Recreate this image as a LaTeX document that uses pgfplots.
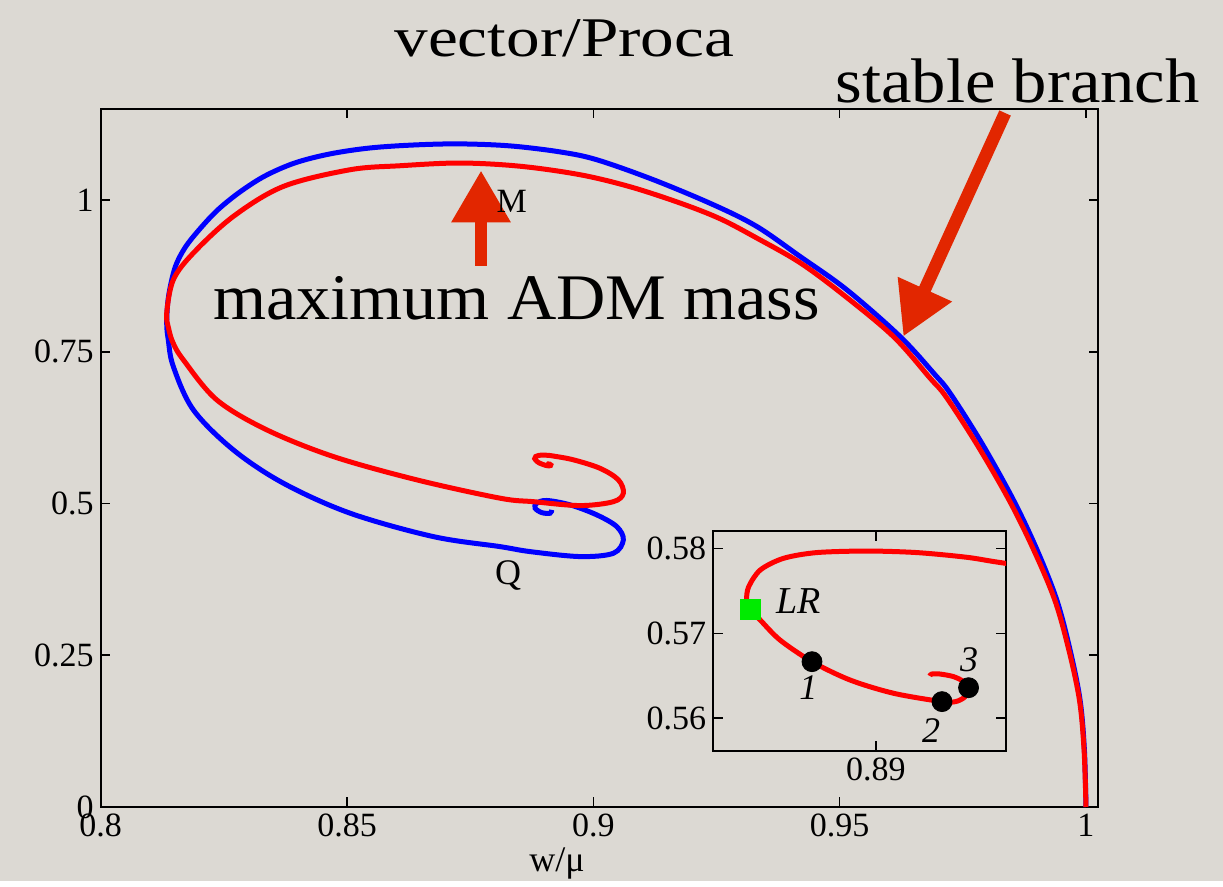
\documentclass[border=0pt]{standalone}
\usepackage{fontspec}
\setmainfont{Liberation Serif}
\usepackage{pgfplots}
\pgfplotsset{compat=1.18}
\usetikzlibrary{arrows.meta}
\definecolor{bg}{RGB}{220,217,211}
\definecolor{arrowred}{RGB}{226,38,0}
\definecolor{lrgreen}{RGB}{0,235,0}
\begin{document}
\begin{tikzpicture}
\fill[bg] (-50.35pt,-37pt) rectangle (561.15pt,403.5pt);
\begin{axis}[
  at={(0pt,0pt)}, anchor=south west,
  scale only axis, width=498.8pt, height=349pt,
  xmin=0.8, xmax=1.0025, ymin=0, ymax=1.15,
  clip=false,
  xtick={0.8,0.85,0.9,0.95,1}, xticklabels={0.8,0.85,0.9,0.95,1},
  ytick={0,0.25,0.5,0.75,1}, yticklabels={0,0.25,0.5,0.75,1},
  tick align=inside, major tick length=4.75pt,
  tick style={line width=0.8pt, black},
  axis line style={line width=1pt},
  ticklabel style={font=\fontsize{17}{19}\selectfont},
]
\addplot[blue, line width=2.5pt, smooth, tension=0.55] coordinates {
(1.0000,0.000) (0.99968,0.09395) (0.99880,0.17636) (0.99677,0.25878) (0.99407,0.34119)
(0.99007,0.42360) (0.98526,0.50602) (0.97885,0.59947) (0.97241,0.68188) (0.96937,0.71205)
(0.96226,0.77518) (0.95144,0.85215) (0.94196,0.90704) (0.93317,0.95649) (0.92436,0.99225)
(0.91218,1.0335) (0.90069,1.0664) (0.89324,1.0793) (0.88309,1.0892) (0.87294,1.0925)
(0.86381,1.0908) (0.85467,1.0858) (0.84655,1.0760) (0.83944,1.0612) (0.83335,1.0397)
(0.82828,1.0134) (0.82381,0.9841) (0.82016,0.9527) (0.81711,0.9214) (0.81508,0.8884)
(0.81376,0.8406) (0.8134,0.7978) (0.81372,0.7697) (0.81474,0.7257) (0.8188,0.6544)
(0.82692,0.5884) (0.83707,0.5335) (0.85061,0.4841) (0.86752,0.4455) (0.88106,0.4290)
(0.88715,0.4208) (0.8973,0.4126) (0.90406,0.418) (0.90609,0.440) (0.90475,0.462)
(0.90069,0.4813) (0.89527,0.4978) (0.89054,0.505) (0.88851,0.5006) (0.88817,0.4923)
(0.88953,0.485) (0.89121,0.484) (0.89156,0.4895)
};
\addplot[red, line width=2.5pt, smooth, tension=0.55] coordinates {
(1.0000,0.000) (0.99962,0.0923) (0.9987,0.1747) (0.99657,0.2571) (0.99373,0.3395)
(0.98957,0.4203) (0.98459,0.5027) (0.97804,0.5950) (0.9716,0.6758) (0.96835,0.7066)
(0.9609,0.77518) (0.95075,0.8439) (0.94196,0.8967) (0.93317,0.9374) (0.92572,0.9692)
(0.9176,0.9951) (0.90745,1.0219) (0.8973,1.0417) (0.88512,1.0557) (0.87294,1.0610)
(0.86076,1.0565) (0.85061,1.0499) (0.83707,1.0224) (0.82692,0.9730) (0.8188,0.9126)
(0.81474,0.8686) (0.8134,0.8137) (0.81376,0.7895) (0.81468,0.7648) (0.81677,0.7368)
(0.82355,0.6708) (0.8337,0.6214) (0.84722,0.5774) (0.86415,0.5390) (0.88106,0.5088)
(0.88789,0.503) (0.8973,0.4966) (0.90406,0.503) (0.90609,0.517) (0.90508,0.539)
(0.90136,0.558) (0.89595,0.572) (0.8919,0.5782) (0.8906,0.5795) (0.88987,0.5797)
(0.88913,0.5795) (0.8883,0.57745) (0.8881,0.57392) (0.88859,0.56921) (0.88906,0.56666)
(0.89026,0.56294) (0.89097,0.56196) (0.89131,0.56255) (0.89136,0.5636) (0.89114,0.5649)
(0.89082,0.56521) (0.89079,0.56498)
};
\draw[arrowred, line width=6.3pt, -{Triangle[width=28pt,length=26pt]}] (axis cs:0.8772,0.8917) -- (axis cs:0.8772,1.0488);
\draw[arrowred, line width=6.3pt, -{Triangle[width=28pt,length=26pt]}] (axis cs:0.98358,1.1434) -- (axis cs:0.96293,0.7752);
\node[anchor=base, font=\fontsize{28}{30}\selectfont] at (axis cs:0.8941,1.2362) {\scalebox{1.2}[1]{vector/Proca}};
\node[anchor=base, font=\fontsize{31.5}{33}\selectfont] at (axis cs:0.98611,1.1604) {\scalebox{1.09}[1]{stable branch}};
\node[anchor=base, font=\fontsize{32.5}{34}\selectfont] at (axis cs:0.88441,0.8027) {\scalebox{1.05}[1]{maximum ADM mass}};
\node[anchor=base, font=\fontsize{17}{19}\selectfont] at (axis cs:0.88343,0.979) {M};
\node[anchor=base, font=\fontsize{18}{20}\selectfont] at (axis cs:0.88268,0.3659) {Q};
\node[anchor=base, font=\fontsize{18}{20}\selectfont] at (axis cs:0.89263,-0.107) {w/μ};
\end{axis}
\begin{axis}[
  at={(306.3pt,28pt)}, anchor=south west,
  scale only axis, width=146.35pt, height=110pt,
  xmin=0.88761, xmax=0.89191, ymin=0.55615, ymax=0.58204,
  xtick={0.89}, xticklabels={0.89},
  ytick={0.56,0.57,0.58}, yticklabels={0.56,0.57,0.58},
  tick align=inside, major tick length=5pt,
  tick style={line width=0.8pt, black},
  axis line style={line width=1pt},
  ticklabel style={font=\fontsize{17}{19}\selectfont},
]
\addplot[red, line width=2.5pt, smooth, tension=0.5] coordinates {
(0.8935,0.5765) (0.8919,0.57824) (0.89134,0.57894) (0.8906,0.5795) (0.88987,0.57968)
(0.88913,0.5795) (0.88864,0.57882) (0.8883,0.57745) (0.88813,0.57548) (0.8881,0.57392)
(0.88815,0.57282) (0.8883,0.57156) (0.88859,0.56921) (0.88906,0.56666) (0.88962,0.5645)
(0.89026,0.56294) (0.89097,0.56196) (0.89117,0.56196) (0.89131,0.56255) (0.89136,0.5636)
(0.89129,0.56431) (0.89114,0.5649) (0.89094,0.56521) (0.89082,0.56521) (0.89079,0.56498)
};
\addplot[only marks, mark=square*, mark size=5pt, color=lrgreen] coordinates {(0.88815,0.57282)};
\addplot[only marks, mark=*, mark size=5pt, color=black] coordinates {(0.88906,0.56666) (0.89097,0.56196) (0.89136,0.5636)};
\node[font=\itshape\fontsize{19}{21}\selectfont] at (axis cs:0.88886,0.5738) {LR};
\node[font=\itshape\fontsize{18}{20}\selectfont] at (axis cs:0.889005,0.56356) {1};
\node[font=\itshape\fontsize{18}{20}\selectfont] at (axis cs:0.89081,0.5585) {2};
\node[font=\itshape\fontsize{18}{20}\selectfont] at (axis cs:0.89137,0.56686) {3};
\end{axis}
\end{tikzpicture}
\end{document}
